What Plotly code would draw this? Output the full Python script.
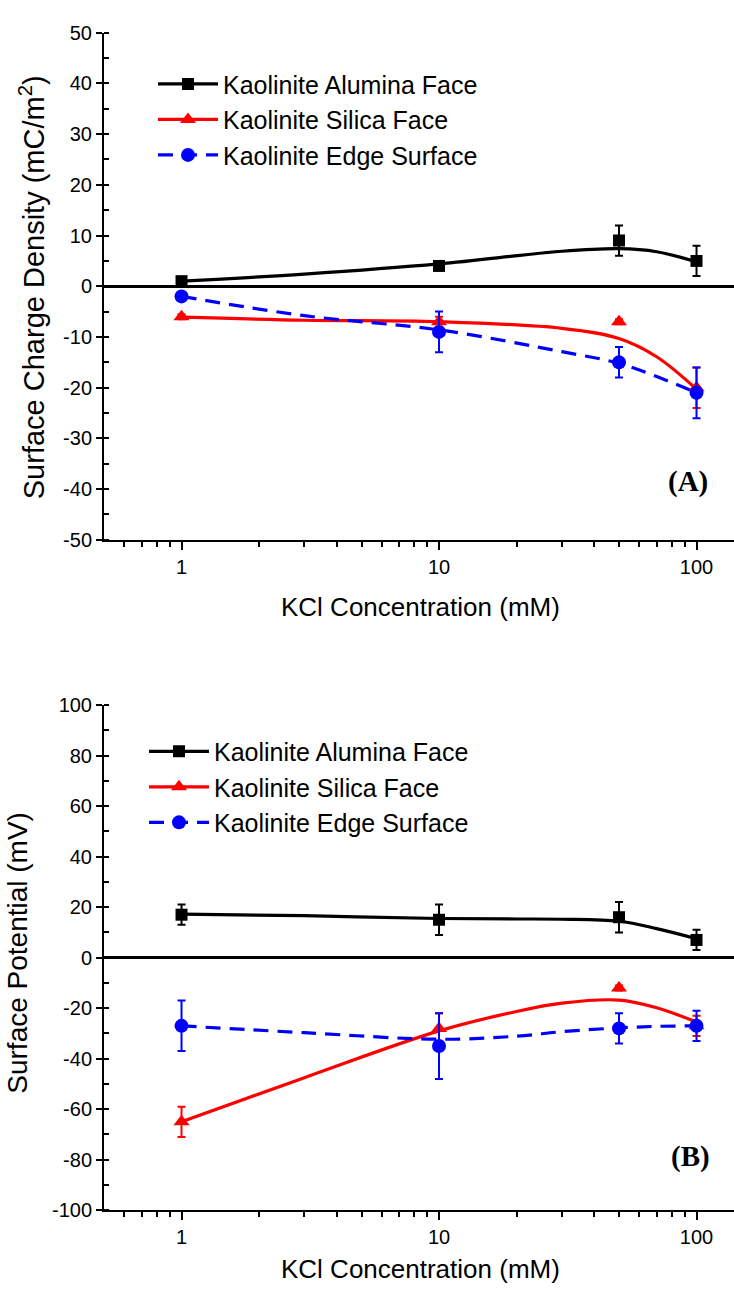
import plotly.graph_objects as go
import numpy as np

W, H = 734, 1295

# ---------------- data ----------------
conc = [1, 10, 50, 100]  # KCl concentration (mM)

# Panel A: surface charge density (mC/m^2)
A_alumina = [1, 4, 9, 5]
A_alumina_err = [0, 0.5, 3, 3]
A_silica = [-6, -7, -7, -20]
A_silica_err = [0.5, 1, 0.5, 4]
A_edge = [-2, -9, -15, -21]
A_edge_err = [0, 4, 3, 5]

# Panel A smoothed curves
A_fit_x = [1, 3, 10, 30, 50, 70, 100]
A_fit_alumina = [1.0, 2.4, 4.4, 6.9, 7.4, 6.8, 4.8]
A_fit_silica = [-6.1, -6.7, -7.0, -8.3, -10.3, -13.9, -20.3]
A_fit_edge = [-2.0, -5.8, -8.6, -12.9, -15.2, -17.8, -21.0]

# Panel B: surface potential (mV)
B_alumina = [17, 15, 16, 7]
B_alumina_err = [4, 6, 6, 4]
B_silica = [-65, -28, -12, -27]
B_silica_err = [6, 6, 1, 4]
B_edge = [-27, -35, -28, -27]
B_edge_err = [10, 13, 6, 6]

B_fit_x = [1, 3, 10, 20, 30, 50, 70, 100]
B_fit_alumina = [17.2, 16.6, 15.5, 15.3, 15.2, 14.4, 11.5, 7.5]
B_fit_silica = [-65, -47.5, -29, -21.3, -18, -16.8, -19.8, -25.5]
B_fit_edge = [-27, -29.7, -32.3, -31.1, -29.3, -27.8, -27.2, -27]

A_yticks = [-50, -40, -30, -20, -10, 0, 10, 20, 30, 40, 50]
B_yticks = [-100, -80, -60, -40, -20, 0, 20, 40, 60, 80, 100]
x_ticks = [1, 10, 100]

names = ["Kaolinite Alumina Face", "Kaolinite Silica Face", "Kaolinite Edge Surface"]
colors = ["#000000", "#ff0000", "#0000ff"]
symbols = ["square", "triangle-up", "circle"]
msizes = [12, 14, 14]
dashes = ["solid", "solid", "15px,9px"]

FONT = "Liberation Sans, Arial, sans-serif"

fig = go.Figure()

def add_panel(xa, ya, legend, fits_x, fits, vals, errs):
    for i in range(3):
        fig.add_trace(go.Scatter(
            x=fits_x, y=fits[i], mode="lines", xaxis=xa, yaxis=ya,
            line=dict(color=colors[i], width=3.2, dash=dashes[i], shape="spline", smoothing=1.0),
            showlegend=False, hoverinfo="skip"))
    for i in range(3):
        fig.add_trace(go.Scatter(
            x=conc, y=vals[i], mode="markers", xaxis=xa, yaxis=ya,
            marker=dict(color=colors[i], symbol=symbols[i], size=msizes[i]),
            error_y=dict(type="data", array=errs[i], color=colors[i], thickness=2, width=4),
            showlegend=False))
    for i in range(3):
        fig.add_trace(go.Scatter(
            x=[None], y=[None], mode="lines+markers", xaxis=xa, yaxis=ya,
            name=names[i], legend=legend,
            line=dict(color=colors[i], width=3.2, dash=dashes[i]),
            marker=dict(color=colors[i], symbol=symbols[i], size=msizes[i])))

add_panel("x", "y", "legend", A_fit_x,
          [A_fit_alumina, A_fit_silica, A_fit_edge],
          [A_alumina, A_silica, A_edge], [A_alumina_err, A_silica_err, A_edge_err])
add_panel("x3", "y3", "legend2", B_fit_x,
          [B_fit_alumina, B_fit_silica, B_fit_edge],
          [B_alumina, B_silica, B_edge], [B_alumina_err, B_silica_err, B_edge_err])

# ---------------- layout ----------------
xdom = [104 / W, 1.0]
domA = [1 - 538 / H, 1 - 22 / H]
domB = [1 - 1220 / H, 1 - 706 / H]
xrange_log = [np.log10(0.5), np.log10(0.5) + 630 / 257.5]
minor_x = [0.6, 0.7, 0.8, 0.9] + list(range(2, 10)) + list(range(20, 100, 10))

tickfont = dict(family=FONT, size=20, color="black")

def xbottom(anchor):
    return dict(type="log", domain=xdom, range=xrange_log, anchor=anchor,
                showline=True, linewidth=2, linecolor="black", mirror=False,
                ticks="outside", ticklen=8, tickwidth=2, tickcolor="black",
                tickmode="array", tickvals=x_ticks, ticktext=[str(v) for v in x_ticks], tickfont=tickfont,
                minor=dict(tickmode="array", tickvals=minor_x, ticks="outside", ticklen=5, tickwidth=2,
                           tickcolor="black"),
                showgrid=False, zeroline=False)

def xtop(over, anchor):
    return dict(type="log", domain=xdom, range=xrange_log, anchor=anchor, overlaying=over, side="top",
                showline=True, linewidth=2, linecolor="black",
                ticks="inside", ticklen=8, tickwidth=2, tickcolor="black",
                tickmode="array", tickvals=x_ticks, showticklabels=False,
                minor=dict(tickmode="array", tickvals=minor_x, ticks="inside", ticklen=5, tickwidth=2,
                           tickcolor="black"),
                showgrid=False, zeroline=False)

def yleft(dom, rng, vals, anchor):
    dt = vals[1] - vals[0]
    return dict(domain=dom, range=rng, anchor=anchor,
                tickmode="array", tickvals=vals, ticktext=[str(v) for v in vals],
                showline=True, linewidth=2, linecolor="black",
                ticks="outside", ticklen=6, tickwidth=2, tickcolor="black", tickfont=tickfont,
                minor=dict(dtick=dt / 2, tick0=0, ticks="inside", ticklen=5, tickwidth=2, tickcolor="black"),
                showgrid=False, zeroline=True, zerolinecolor="black", zerolinewidth=2.5)

legfont = dict(family=FONT, size=25, color="black")
fig.update_layout(
    width=W, height=H, margin=dict(l=0, r=0, t=0, b=0),
    paper_bgcolor="white", plot_bgcolor="white",
    font=dict(family=FONT, color="black"),
    xaxis=xbottom("y"),
    xaxis2=xtop("x", "y"),
    yaxis=yleft(domA, [-50, 50], A_yticks, "x"),
    yaxis2=dict(domain=domA, range=[-50, 50], overlaying="y", side="right", anchor="x",
                tickmode="array", tickvals=A_yticks, showline=False, ticks="inside", ticklen=6, tickwidth=2,
                tickcolor="black", showticklabels=False, showgrid=False, zeroline=False,
                minor=dict(dtick=5, tick0=0, ticks="inside", ticklen=3, tickwidth=2, tickcolor="black")),
    xaxis3=xbottom("y3"),
    xaxis4=xtop("x3", "y3"),
    yaxis3=yleft(domB, [-100, 100], B_yticks, "x3"),
    legend=dict(x=153 / W, y=1 - 51 / H, xanchor="left", yanchor="top",
                font=legfont, bgcolor="rgba(0,0,0,0)", itemwidth=60, tracegroupgap=0),
    legend2=dict(x=144 / W, y=1 - 730 / H, xanchor="left", yanchor="top",
                 font=legfont, bgcolor="rgba(0,0,0,0)", itemwidth=60, tracegroupgap=0),
    showlegend=True,
)

ann = []
ann.append(dict(text="KCl Concentration (mM)", x=420 / W, y=1 - 606 / H, xref="paper", yref="paper",
                showarrow=False, font=dict(family=FONT, size=26, color="black"), xanchor="center", yanchor="middle"))
ann.append(dict(text="KCl Concentration (mM)", x=420 / W, y=1 - 1280 / H, xref="paper", yref="paper",
                showarrow=False, font=dict(family=FONT, size=26, color="black"), xanchor="center", yanchor="middle"))
ann.append(dict(text="Surface Charge Density (mC/m<sup>2</sup>)", x=32 / W, y=1 - 281 / H, xref="paper", yref="paper",
                showarrow=False, textangle=-90, font=dict(family=FONT, size=29, color="black"),
                xanchor="center", yanchor="middle"))
ann.append(dict(text="Surface Potential (mV)", x=18 / W, y=1 - 958 / H, xref="paper", yref="paper",
                showarrow=False, textangle=-90, font=dict(family=FONT, size=28, color="black"),
                xanchor="center", yanchor="middle"))
ann.append(dict(text="<b>(A)</b>", x=688 / W, y=1 - 479 / H, xref="paper", yref="paper",
                showarrow=False, font=dict(family="Liberation Serif, Times New Roman, serif", size=29, color="black"),
                xanchor="center", yanchor="middle"))
ann.append(dict(text="<b>(B)</b>", x=690 / W, y=1 - 1165 / H, xref="paper", yref="paper",
                showarrow=False, font=dict(family="Liberation Serif, Times New Roman, serif", size=29, color="black"),
                xanchor="center", yanchor="middle"))
fig.update_layout(annotations=ann)

fig.write_html("out.html")
